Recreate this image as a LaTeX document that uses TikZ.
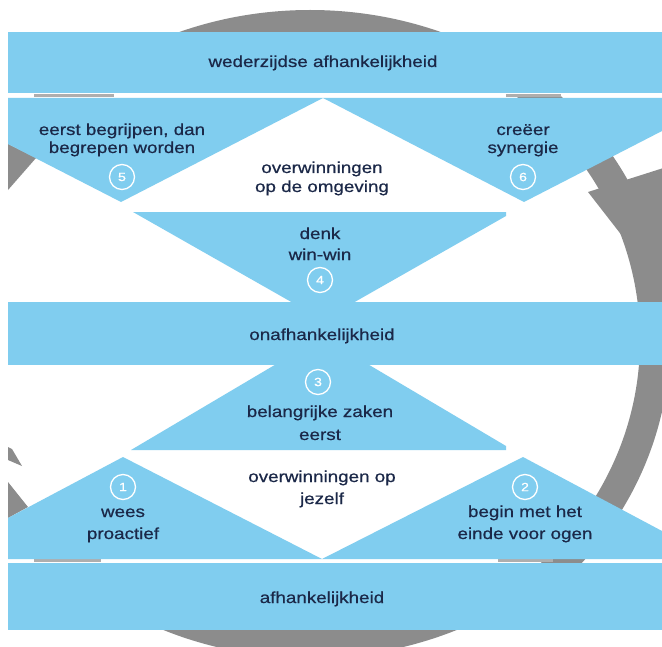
\documentclass[tikz,border=0pt]{standalone}
\usepackage{fontspec}
\setmainfont[FakeStretch=1.18,FakeBold=0.6]{Liberation Sans}
\definecolor{bl}{HTML}{80CDEF}
\definecolor{rg}{HTML}{8C8C8C}
\definecolor{tx}{HTML}{1B2848}
\begin{document}
\begin{tikzpicture}[x=1bp,y=-1bp,
  lbl/.style={font=\fontsize{16}{20}\selectfont, text=tx, anchor=base, inner sep=0pt},
  num/.style={circle, draw=white, line width=1.3bp, minimum size=25bp, inner sep=0pt,
              text=white, font=\fontsize{12}{12}\selectfont},
  band/.style={fill=bl},
  ring/.style={fill=rg}]
\fill[white] (0,0) rectangle (662,647);
\useasboundingbox (0,0) rectangle (662,647);
% grey ring pieces
\begin{scope}
  \clip (0,0) rectangle (662,33);
  \fill[ring] (310,334) ellipse [x radius=360, y radius=324];
\end{scope}
\begin{scope}
  \clip (0,629) rectangle (662,647);
  \fill[ring] (310,334) ellipse [x radius=360, y radius=324];
\end{scope}
\begin{scope}
  \clip (470,97) rectangle (662,563);
  \fill[ring, even odd rule] (310,340) ellipse [x radius=360, y radius=340]
       (310,340) ellipse [x radius=330, y radius=312];
  \fill[ring] (588,192) -- (720,150) -- (672,300) -- cycle;
\end{scope}
\fill[ring] (8,144) -- (36,158) -- (8,190) -- cycle;
\fill[ring] (8,447) -- (12,449) -- (22,466) -- (8,460) -- cycle;
\fill[ring] (8,482) -- (28,507) -- (8,518) -- cycle;
\fill[rg!70] (34,94) rectangle (114,97);
\fill[rg!70] (506,94) rectangle (561,97);
\fill[rg!70] (34,559) rectangle (101,562);
\fill[rg!70] (498,559) rectangle (553,562);
% blue bands and triangles
\fill[band] (8,32) rectangle (662,93);
\fill[band] (8,98) -- (323,98) -- (121,202) -- (8,144) -- cycle;
\fill[band] (323,98) -- (662,98) -- (662,131) -- (524,202) -- cycle;
\fill[band] (133,212) -- (506,212) -- (506,216) -- (323,320) -- cycle;
\fill[band] (8,302) rectangle (662,365);
\fill[band] (322,337) -- (506,446) -- (506,450) -- (131,450) -- cycle;
\fill[band] (8,518) -- (123,457) -- (322,559) -- (8,559) -- cycle;
\fill[band] (322,559) -- (523,457) -- (662,531) -- (662,559) -- cycle;
\fill[band] (8,563) rectangle (662,630);
% texts
\node[lbl] (wa) at (323,67) {wederzijdse afhankelijkheid};
\node[lbl] (eb1) at (122,135) {eerst begrijpen, dan};
\node[lbl] (eb2) at (122,153) {begrepen worden};
\node[lbl] (cs1) at (523,135) {creëer};
\node[lbl] (cs2) at (523,153) {synergie};
\node[lbl] (oo1) at (322,173) {overwinningen};
\node[lbl] (oo2) at (322,192) {op de omgeving};
\node[lbl] (dw1) at (320,239) {denk};
\node[lbl] (dw2) at (320,260) {win-win};
\node[lbl] (oa) at (322,340) {onafhankelijkheid};
\node[lbl] (bz1) at (320,417) {belangrijke zaken};
\node[lbl] (bz2) at (320,440) {eerst};
\node[lbl] (oj1) at (322,482) {overwinningen op};
\node[lbl] (oj2) at (322,504) {jezelf};
\node[lbl] (wp1) at (123,517) {wees};
\node[lbl] (wp2) at (123,539) {proactief};
\node[lbl] (be1) at (525,517) {begin met het};
\node[lbl] (be2) at (525,539) {einde voor ogen};
\node[lbl] (ah) at (322,603) {afhankelijkheid};
% numbered circles
\node[num] (n5) at (122,177) {5};
\node[num] (n6) at (523,177) {6};
\node[num] (n4) at (320,280) {4};
\node[num] (n3) at (318,382) {3};
\node[num] (n1) at (123,487) {1};
\node[num] (n2) at (525,487) {2};
\end{tikzpicture}
\end{document}
